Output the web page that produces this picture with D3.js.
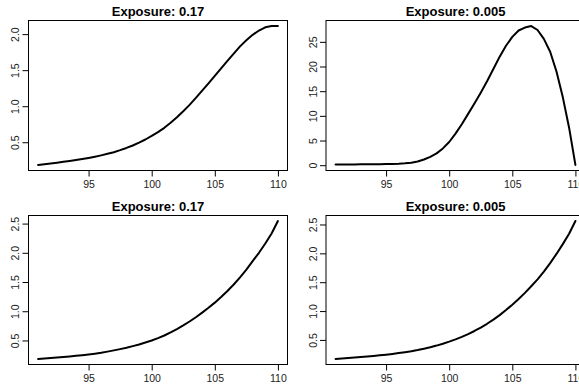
<!DOCTYPE html>
<html>
<head>
<meta charset="utf-8">
<script src="https://cdn.jsdelivr.net/npm/d3@7"></script>
<style>
  html, body { margin: 0; padding: 0; background: #fff; }
  svg { display: block; font-family: "Liberation Sans", Arial, sans-serif; }
</style>
</head>
<body>
<svg id="chart" width="579" height="385"></svg>
<script>
// ---- data ----
const xs = [91, 91.5, 92, 92.5, 93, 93.5, 94, 94.5, 95, 95.5, 96, 96.5, 97, 97.5, 98, 98.5, 99, 99.5,
            100, 100.5, 101, 101.5, 102, 102.5, 103, 103.5, 104, 104.5, 105, 105.5, 106, 106.5,
            107, 107.5, 108, 108.5, 109, 109.5, 110];

const titles = ["Exposure: 0.17", "Exposure: 0.005", "Exposure: 0.17", "Exposure: 0.005"];

const topLeft = [0.185, 0.195, 0.205, 0.216, 0.228, 0.240, 0.253, 0.267, 0.282, 0.299, 0.318, 0.339,
                 0.362, 0.390, 0.421, 0.455, 0.494, 0.538, 0.588, 0.641, 0.700, 0.770, 0.847, 0.930,
                 1.018, 1.115, 1.217, 1.318, 1.420, 1.525, 1.630, 1.730, 1.830, 1.915, 1.990, 2.050,
                 2.095, 2.112, 2.112];

const topRight = [0.15, 0.15, 0.16, 0.16, 0.17, 0.18, 0.19, 0.20, 0.22, 0.25, 0.30, 0.38, 0.50, 0.75,
                  1.15, 1.70, 2.40, 3.40, 4.70, 6.40, 8.30, 10.4, 12.5, 14.7, 17.0, 19.5, 22.0, 24.2,
                  26.0, 27.3, 27.9, 28.2, 27.4, 25.6, 23.0, 19.0, 13.8, 7.6, 0.05];

const bottomLeft = [0.183, 0.191, 0.200, 0.208, 0.217, 0.227, 0.237, 0.248, 0.260, 0.274, 0.290, 0.309,
                    0.330, 0.352, 0.376, 0.403, 0.432, 0.465, 0.500, 0.540, 0.585, 0.638, 0.694, 0.757,
                    0.824, 0.898, 0.977, 1.060, 1.147, 1.243, 1.347, 1.458, 1.580, 1.713, 1.858, 2.000,
                    2.159, 2.330, 2.544];

const bottomRight = [0.170, 0.177, 0.185, 0.194, 0.203, 0.212, 0.222, 0.233, 0.245, 0.258, 0.272, 0.288,
                     0.305, 0.325, 0.348, 0.373, 0.402, 0.434, 0.470, 0.509, 0.553, 0.602, 0.655, 0.715,
                     0.780, 0.852, 0.930, 1.017, 1.110, 1.210, 1.315, 1.430, 1.550, 1.685, 1.830, 1.990,
                     2.160, 2.340, 2.560];

const xTicks = [95, 100, 105, 110];
const yTicksTL = [0.5, 1.0, 1.5, 2.0];
const yTicksTR = [0, 5, 10, 15, 20, 25];
const yTicksB = [0.5, 1.0, 1.5, 2.0, 2.5];

// ---- layout ----
const cols = [[28.5, 287.5], [326, 585]];
const rows = [[20.5, 170.5], [215.5, 364.5]];

const panels = [
  { title: titles[0], values: topLeft,     ticks: yTicksTL, fmt: d3.format(".1f"), c: 0, r: 0 },
  { title: titles[1], values: topRight,    ticks: yTicksTR, fmt: d3.format("d"),   c: 1, r: 0 },
  { title: titles[2], values: bottomLeft,  ticks: yTicksB,  fmt: d3.format(".1f"), c: 0, r: 1 },
  { title: titles[3], values: bottomRight, ticks: yTicksB,  fmt: d3.format(".1f"), c: 1, r: 1 }
];

const svg = d3.select("#chart");

function padded(ext) {
  const d = (ext[1] - ext[0]) * 0.04;
  return [ext[0] - d, ext[1] + d];
}

panels.forEach(p => {
  const [x0, x1] = cols[p.c];
  const [y0, y1] = rows[p.r];
  const x = d3.scaleLinear().domain(padded(d3.extent(xs))).range([x0, x1]);
  const y = d3.scaleLinear().domain(padded(d3.extent(p.values))).range([y1, y0]);

  const g = svg.append("g");

  // curve
  const line = d3.line().x((d, i) => x(xs[i])).y(d => y(d));
  g.append("path")
    .datum(p.values)
    .attr("d", line)
    .attr("fill", "none")
    .attr("stroke", "#000")
    .attr("stroke-width", 2)
    .attr("stroke-linejoin", "round")
    .attr("stroke-linecap", "round");

  // box
  g.append("rect")
    .attr("x", x0).attr("y", y0)
    .attr("width", x1 - x0).attr("height", y1 - y0)
    .attr("fill", "none").attr("stroke", "#000").attr("stroke-width", 1);

  // x axis
  const xa = g.append("g")
    .attr("transform", `translate(0,${y1})`)
    .call(d3.axisBottom(x).tickValues(xTicks).tickSize(6).tickPadding(4).tickSizeOuter(0)
      .tickFormat(d3.format("d")));
  xa.select(".domain").remove();
  xa.selectAll("text").attr("font-size", 10.5).attr("fill", "#222").attr("font-family", null);
  xa.selectAll("line").attr("stroke", "#000");

  // y axis
  const ya = g.append("g")
    .attr("transform", `translate(${x0},0)`)
    .call(d3.axisLeft(y).tickValues(p.ticks).tickSize(6).tickSizeOuter(0).tickFormat(p.fmt));
  ya.select(".domain").remove();
  ya.selectAll("line").attr("stroke", "#000");
  ya.selectAll("text")
    .attr("x", null).attr("dy", null)
    .attr("text-anchor", "middle")
    .attr("transform", "translate(-9.5,0) rotate(-90)")
    .attr("font-size", 10.5).attr("fill", "#222").attr("font-family", null);

  // title
  g.append("text")
    .attr("x", (x0 + x1) / 2)
    .attr("y", y0 - 4.5)
    .attr("text-anchor", "middle")
    .attr("font-size", 13)
    .attr("font-weight", "bold")
    .text(p.title);
});
</script>
</body>
</html>
